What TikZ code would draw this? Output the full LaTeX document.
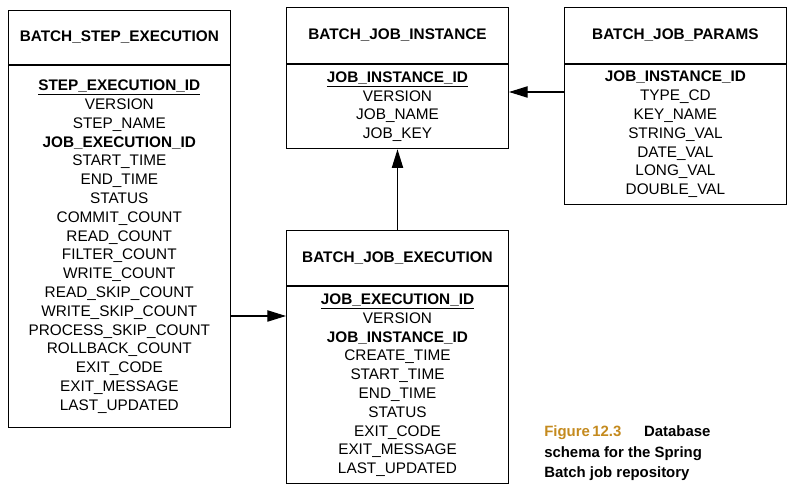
\documentclass[tikz,border=0pt]{standalone}
\usepackage{fontspec}
\setmainfont{Liberation Sans}
\usepackage{xcolor}
\usepackage{tikz}
\usetikzlibrary{positioning}
\usetikzlibrary{arrows.meta}
\definecolor{figgold}{RGB}{196,138,30}
\tikzset{
	tabhead/.style={draw,line width=0.8pt,minimum width=166.5pt,inner sep=0pt,font=\fontsize{11.5}{14.1}\selectfont\bfseries},
	tabbody/.style={draw,line width=0.8pt,minimum width=166.5pt,inner sep=0pt,align=center,font=\fontsize{11.5}{14.1}\selectfont},
	arr/.style={line width=0.8pt,-{Triangle[length=14pt,width=8.5pt]}}
}
\newcommand{\pkey}[1]{\textbf{\underline{#1}}}

\begin{document}
\begin{tikzpicture}[x=0.75pt,y=-0.75pt]
			
			\useasboundingbox (0,0) rectangle (794,502);
			
			\node[tabhead,minimum height=40.7pt] (stephead) at (119.3,37.2) {BATCH\_STEP\_EXECUTION};
			\node[tabbody,minimum height=271.8pt,below=0pt of stephead] (stepbody) {\pkey{STEP\_EXECUTION\_ID}\\VERSION\\STEP\_NAME\\\textbf{JOB\_EXECUTION\_ID}\\START\_TIME\\END\_TIME\\STATUS\\COMMIT\_COUNT\\READ\_COUNT\\FILTER\_COUNT\\WRITE\_COUNT\\READ\_SKIP\_COUNT\\WRITE\_SKIP\_COUNT\\PROCESS\_SKIP\_COUNT\\ROLLBACK\_COUNT\\EXIT\_CODE\\EXIT\_MESSAGE\\LAST\_UPDATED};
			
			\node[tabhead,minimum height=41.9pt] (insthead) at (397.5,35.4) {BATCH\_JOB\_INSTANCE};
			\node[tabbody,minimum height=63.3pt,below=0pt of insthead] (instbody) {\pkey{JOB\_INSTANCE\_ID}\\VERSION\\JOB\_NAME\\JOB\_KEY};
			
			\node[tabhead,minimum height=41.9pt] (parhead) at (675.4,35.4) {BATCH\_JOB\_PARAMS};
			\node[tabbody,minimum height=105pt,below=0pt of parhead] (parbody) {\textbf{JOB\_INSTANCE\_ID}\\TYPE\_CD\\KEY\_NAME\\STRING\_VAL\\DATE\_VAL\\LONG\_VAL\\DOUBLE\_VAL};
			
			\node[tabhead,minimum height=41.25pt] (exechead) at (397.5,258.2) {BATCH\_JOB\_EXECUTION};
			\node[tabbody,minimum height=147.75pt,below=0pt of exechead] (execbody) {\pkey{JOB\_EXECUTION\_ID}\\VERSION\\\textbf{JOB\_INSTANCE\_ID}\\CREATE\_TIME\\START\_TIME\\END\_TIME\\STATUS\\EXIT\_CODE\\EXIT\_MESSAGE\\LAST\_UPDATED};
			
			\coordinate (pj) at (0,92);
			\coordinate (se) at (0,316);
			
			\draw[arr] (exechead.north) -- (instbody.south);
			\draw[arr] (parbody.west |- pj) -- (instbody.east |- pj);
			\draw[arr] (stepbody.east |- se) -- (execbody.west |- se);
			
			\node[anchor=base west,align=left,inner sep=0pt,font=\bfseries\fontsize{11.2}{15.4}\selectfont] (cap) at (544,478) {\textcolor{figgold}{Figure\,12.3}\hspace{17pt}Database\\schema for the Spring\\Batch job repository};
			
		\end{tikzpicture}
\end{document}
